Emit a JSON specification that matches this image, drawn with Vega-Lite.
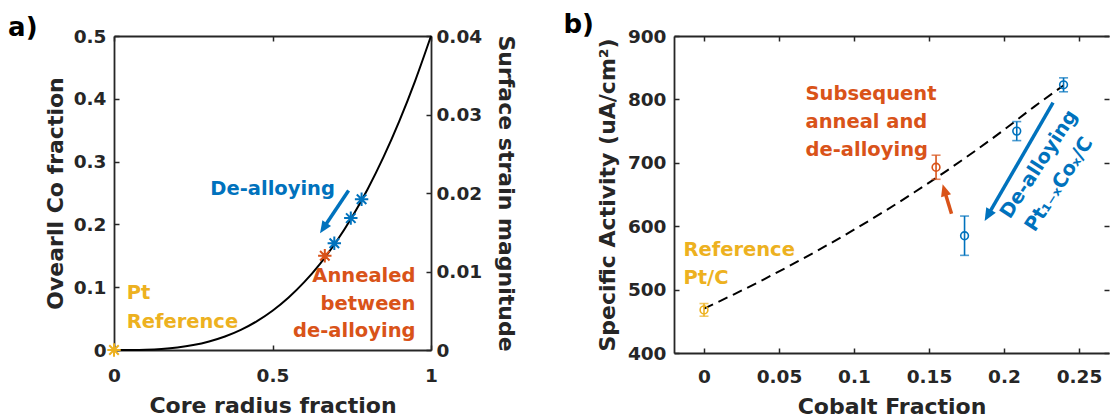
{
  "$schema": "https://vega.github.io/schema/vega-lite/v6.json",
  "background": "white",
  "padding": {"left": 8, "top": 12, "right": 0, "bottom": 0},
  "bounds": "flush",
  "spacing": 243,
  "config": {
    "view": {"stroke": null},
    "font": "DejaVu Sans",
    "axis": {
      "grid": false,
      "labelFont": "DejaVu Sans", "labelFontWeight": "bold", "labelFontSize": 18.5, "labelColor": "#262626",
      "titleFont": "DejaVu Sans", "titleFontWeight": "bold", "titleFontSize": 22, "titleColor": "#262626",
      "domainColor": "#262626", "domainWidth": 1.8, "tickColor": "#262626", "tickWidth": 1.5, "tickSize": -5,
      "labelFlush": false, "labelOverlap": false
    },
    "text": {"font": "DejaVu Sans", "fontWeight": "bold", "fontSize": 19.5}
  },
  "datasets": {
    "curveA": [
      {"r": 0, "co": 0}, {"r": 0.05, "co": 0.0001}, {"r": 0.1, "co": 0.0005}, {"r": 0.15, "co": 0.0017},
      {"r": 0.2, "co": 0.004}, {"r": 0.25, "co": 0.0078}, {"r": 0.3, "co": 0.0135}, {"r": 0.35, "co": 0.0214},
      {"r": 0.4, "co": 0.032}, {"r": 0.45, "co": 0.0456}, {"r": 0.5, "co": 0.0625}, {"r": 0.55, "co": 0.0832},
      {"r": 0.6, "co": 0.108}, {"r": 0.65, "co": 0.1373}, {"r": 0.7, "co": 0.1715}, {"r": 0.75, "co": 0.2109},
      {"r": 0.8, "co": 0.256}, {"r": 0.85, "co": 0.3071}, {"r": 0.9, "co": 0.3645}, {"r": 0.95, "co": 0.4287},
      {"r": 1, "co": 0.5}
    ],
    "ptsA": [
      {"r": 0, "co": 0, "series": "ref"},
      {"r": 0.665, "co": 0.15, "series": "anneal"},
      {"r": 0.695, "co": 0.17, "series": "dealloy"},
      {"r": 0.747, "co": 0.21, "series": "dealloy"},
      {"r": 0.781, "co": 0.24, "series": "dealloy"}
    ],
    "arrowA": [{"x0": 0.74, "y0": 0.254, "x1": 0.664, "y1": 0.1967, "xt": 0.65, "yt": 0.186, "series": "dealloy"}],
    "textA_right": [
      {"x": 0.697, "y": 0.2476, "label": "De-alloying", "series": "dealloy"},
      {"x": 0.951, "y": 0.108, "label": "Annealed", "series": "anneal"},
      {"x": 0.951, "y": 0.0635, "label": "between", "series": "anneal"},
      {"x": 0.951, "y": 0.02, "label": "de-alloying", "series": "anneal"}
    ],
    "textA_left": [
      {"x": 0.04, "y": 0.0812, "label": "Pt", "series": "ref"},
      {"x": 0.04, "y": 0.035, "label": "Reference", "series": "ref"}
    ],
    "lineB": [
      {"cf": 0, "sa": 470}, {"cf": 0.02, "sa": 492.6}, {"cf": 0.04, "sa": 516.3}, {"cf": 0.06, "sa": 541.2},
      {"cf": 0.08, "sa": 567.2}, {"cf": 0.1, "sa": 594.5}, {"cf": 0.12, "sa": 623.1}, {"cf": 0.14, "sa": 653.1},
      {"cf": 0.16, "sa": 684.6}, {"cf": 0.18, "sa": 717.5}, {"cf": 0.2, "sa": 752}, {"cf": 0.22, "sa": 788.2},
      {"cf": 0.2397, "sa": 822}
    ],
    "ptsB": [
      {"cf": 0, "sa": 468, "lo": 458, "hi": 478, "series": "ref"},
      {"cf": 0.1547, "sa": 693, "lo": 674, "hi": 712, "series": "anneal"},
      {"cf": 0.1737, "sa": 585, "lo": 554, "hi": 616, "series": "dealloy"},
      {"cf": 0.2085, "sa": 750, "lo": 735, "hi": 765, "series": "dealloy"},
      {"cf": 0.2397, "sa": 823, "lo": 812, "hi": 834, "series": "dealloy"}
    ],
    "arrowBblue": [{"x0": 0.2327, "y0": 794.8, "x1": 0.1897, "y1": 619.1, "xt": 0.1871, "yt": 608.2, "series": "dealloy"}],
    "arrowBorange": [{"x0": 0.165, "y0": 619.5, "x1": 0.1606, "y1": 654, "xt": 0.1591, "yt": 666.1, "series": "anneal"}],
    "textB_left": [
      {"x": 0.0677, "y": 799.8, "label": "Subsequent", "series": "anneal"},
      {"x": 0.0677, "y": 754.9, "label": "anneal and", "series": "anneal"},
      {"x": 0.0677, "y": 711.5, "label": "de-alloying", "series": "anneal"},
      {"x": -0.0137, "y": 553, "label": "Reference", "series": "ref"},
      {"x": -0.0137, "y": 509.6, "label": "Pt/C", "series": "ref"}
    ],
    "textB_rot": [
      {"x": 0.2233, "y": 697.6, "label": "De-alloying", "series": "dealloy"},
      {"x": 0.2367, "y": 666.1, "label": "Pt₁₋ₓCoₓ/C", "series": "dealloy"}
    ]
  },
  "hconcat": [
    {
      "width": 317,
      "height": 314,
      "resolve": {"scale": {"x": "independent", "y": "independent"}},
      "layer": [
        {
          "layer": [
            {
              "data": {"name": "curveA"},
              "mark": {"type": "line", "color": "#000000", "strokeWidth": 2, "interpolate": "monotone"},
              "encoding": {
                "x": {"field": "r", "type": "quantitative", "scale": {"domain": [0, 1], "nice": false, "zero": false},
                      "axis": {"orient": "bottom", "values": [0, 0.5, 1], "format": "~g", "title": "Core radius fraction", "labelPadding": 21, "titlePadding": 11}},
                "y": {"field": "co", "type": "quantitative", "scale": {"domain": [0, 0.5], "nice": false, "zero": false},
                      "axis": {"orient": "left", "values": [0, 0.1, 0.2, 0.3, 0.4, 0.5], "format": "~g", "title": "Ovearll Co fraction", "labelPadding": 13, "titlePadding": 6}}
              }
            },
            {
              "data": {"name": "ptsA"},
              "mark": {"type": "point", "shape": "M-1,0L1,0M0,-1L0,1M-0.71,-0.71L0.71,0.71M-0.71,0.71L0.71,-0.71", "filled": false, "size": 180, "strokeWidth": 2, "opacity": 1},
              "encoding": {
                "x": {"field": "r", "type": "quantitative", "scale": {"domain": [0, 1], "nice": false, "zero": false}},
                "y": {"field": "co", "type": "quantitative", "scale": {"domain": [0, 0.5], "nice": false, "zero": false}},
                "color": {"field": "series", "type": "nominal", "scale": {"domain": ["dealloy", "anneal", "ref"], "range": ["#0072BD", "#D95319", "#EDB120"]}, "legend": null}
              }
            },
            {
              "data": {"name": "arrowA"},
              "mark": {"type": "rule", "strokeWidth": 3.5, "strokeCap": "butt"},
              "encoding": {
                "x": {"field": "x0", "type": "quantitative", "scale": {"domain": [0, 1], "nice": false, "zero": false}},
                "y": {"field": "y0", "type": "quantitative", "scale": {"domain": [0, 0.5], "nice": false, "zero": false}},
                "x2": {"field": "x1"},
                "y2": {"field": "y1"},
                "color": {"field": "series", "type": "nominal", "scale": {"domain": ["dealloy", "anneal", "ref"], "range": ["#0072BD", "#D95319", "#EDB120"]}, "legend": null}
              }
            },
            {
              "data": {"name": "arrowA"},
              "mark": {"type": "point", "shape": "M0,0L0.65,1.5L-0.65,1.5Z", "filled": true, "size": 256, "opacity": 1, "angle": 213.8},
              "encoding": {
                "x": {"field": "xt", "type": "quantitative", "scale": {"domain": [0, 1], "nice": false, "zero": false}},
                "y": {"field": "yt", "type": "quantitative", "scale": {"domain": [0, 0.5], "nice": false, "zero": false}},
                "color": {"field": "series", "type": "nominal", "scale": {"domain": ["dealloy", "anneal", "ref"], "range": ["#0072BD", "#D95319", "#EDB120"]}, "legend": null}
              }
            },
            {
              "data": {"name": "textA_right"},
              "mark": {"type": "text", "align": "right", "baseline": "alphabetic"},
              "encoding": {
                "x": {"field": "x", "type": "quantitative", "scale": {"domain": [0, 1], "nice": false, "zero": false}},
                "y": {"field": "y", "type": "quantitative", "scale": {"domain": [0, 0.5], "nice": false, "zero": false}},
                "text": {"field": "label"},
                "color": {"field": "series", "type": "nominal", "scale": {"domain": ["dealloy", "anneal", "ref"], "range": ["#0072BD", "#D95319", "#EDB120"]}, "legend": null}
              }
            },
            {
              "data": {"name": "textA_left"},
              "mark": {"type": "text", "align": "left", "baseline": "alphabetic"},
              "encoding": {
                "x": {"field": "x", "type": "quantitative", "scale": {"domain": [0, 1], "nice": false, "zero": false}},
                "y": {"field": "y", "type": "quantitative", "scale": {"domain": [0, 0.5], "nice": false, "zero": false}},
                "text": {"field": "label"},
                "color": {"field": "series", "type": "nominal", "scale": {"domain": ["dealloy", "anneal", "ref"], "range": ["#0072BD", "#D95319", "#EDB120"]}, "legend": null}
              }
            },
            {
              "data": {"values": [{"x": -0.334, "y": 0.5, "label": "a)"}]},
              "mark": {"type": "text", "align": "left", "baseline": "alphabetic", "fontSize": 26, "color": "#000000"},
              "encoding": {
                "x": {"field": "x", "type": "quantitative", "scale": {"domain": [0, 1], "nice": false, "zero": false}},
                "y": {"field": "y", "type": "quantitative", "scale": {"domain": [0, 0.5], "nice": false, "zero": false}},
                "text": {"field": "label"}
              }
            }
          ]
        },
        {
          "data": {"values": [{"r": 0, "s": 0}]},
          "mark": {"type": "point", "opacity": 0},
          "encoding": {
            "x": {"field": "r", "type": "quantitative", "scale": {"domain": [0, 1], "nice": false, "zero": false},
                  "axis": {"orient": "top", "values": [0, 0.5, 1], "labels": false, "title": null}},
            "y": {"field": "s", "type": "quantitative", "scale": {"domain": [0, 0.04], "nice": false, "zero": false},
                  "axis": {"orient": "right", "values": [0, 0.01, 0.02, 0.03, 0.04], "format": "~g", "title": "Surface strain magnitude", "labelPadding": 10, "titlePadding": 12}}
          }
        }
      ]
    },
    {
      "width": 435,
      "height": 317,
      "resolve": {"scale": {"x": "independent", "y": "independent"}},
      "layer": [
        {
          "layer": [
            {
              "data": {"name": "lineB"},
              "mark": {"type": "line", "color": "#000000", "strokeWidth": 2, "strokeDash": [10, 6], "interpolate": "monotone"},
              "encoding": {
                "x": {"field": "cf", "type": "quantitative", "scale": {"domain": [-0.02, 0.27], "nice": false, "zero": false},
                      "axis": {"orient": "bottom", "values": [0, 0.05, 0.1, 0.15, 0.2, 0.25], "format": "~g", "title": "Cobalt Fraction", "labelPadding": 19, "titlePadding": 11}},
                "y": {"field": "sa", "type": "quantitative", "scale": {"domain": [400, 900], "nice": false, "zero": false},
                      "axis": {"orient": "left", "values": [400, 500, 600, 700, 800, 900], "format": "d", "title": "Specific Activity (uA/cm²)", "labelPadding": 13, "titlePadding": 8}}
              }
            },
            {
              "data": {"name": "ptsB"},
              "mark": {"type": "rule", "strokeWidth": 1.6},
              "encoding": {
                "x": {"field": "cf", "type": "quantitative", "scale": {"domain": [-0.02, 0.27], "nice": false, "zero": false}},
                "y": {"field": "lo", "type": "quantitative", "scale": {"domain": [400, 900], "nice": false, "zero": false}},
                "y2": {"field": "hi"},
                "color": {"field": "series", "type": "nominal", "scale": {"domain": ["dealloy", "anneal", "ref"], "range": ["#0072BD", "#D95319", "#EDB120"]}, "legend": null}
              }
            },
            {
              "data": {"name": "ptsB"},
              "mark": {"type": "tick", "orient": "horizontal", "size": 9, "thickness": 1.6},
              "encoding": {
                "x": {"field": "cf", "type": "quantitative", "scale": {"domain": [-0.02, 0.27], "nice": false, "zero": false}},
                "y": {"field": "lo", "type": "quantitative", "scale": {"domain": [400, 900], "nice": false, "zero": false}},
                "color": {"field": "series", "type": "nominal", "scale": {"domain": ["dealloy", "anneal", "ref"], "range": ["#0072BD", "#D95319", "#EDB120"]}, "legend": null}
              }
            },
            {
              "data": {"name": "ptsB"},
              "mark": {"type": "tick", "orient": "horizontal", "size": 9, "thickness": 1.6},
              "encoding": {
                "x": {"field": "cf", "type": "quantitative", "scale": {"domain": [-0.02, 0.27], "nice": false, "zero": false}},
                "y": {"field": "hi", "type": "quantitative", "scale": {"domain": [400, 900], "nice": false, "zero": false}},
                "color": {"field": "series", "type": "nominal", "scale": {"domain": ["dealloy", "anneal", "ref"], "range": ["#0072BD", "#D95319", "#EDB120"]}, "legend": null}
              }
            },
            {
              "data": {"name": "ptsB"},
              "mark": {"type": "point", "shape": "circle", "filled": false, "size": 60, "strokeWidth": 1.6, "opacity": 1},
              "encoding": {
                "x": {"field": "cf", "type": "quantitative", "scale": {"domain": [-0.02, 0.27], "nice": false, "zero": false}},
                "y": {"field": "sa", "type": "quantitative", "scale": {"domain": [400, 900], "nice": false, "zero": false}},
                "color": {"field": "series", "type": "nominal", "scale": {"domain": ["dealloy", "anneal", "ref"], "range": ["#0072BD", "#D95319", "#EDB120"]}, "legend": null}
              }
            },
            {
              "data": {"name": "arrowBblue"},
              "mark": {"type": "rule", "strokeWidth": 3.5, "strokeCap": "butt"},
              "encoding": {
                "x": {"field": "x0", "type": "quantitative", "scale": {"domain": [-0.02, 0.27], "nice": false, "zero": false}},
                "y": {"field": "y0", "type": "quantitative", "scale": {"domain": [400, 900], "nice": false, "zero": false}},
                "x2": {"field": "x1"},
                "y2": {"field": "y1"},
                "color": {"field": "series", "type": "nominal", "scale": {"domain": ["dealloy", "anneal", "ref"], "range": ["#0072BD", "#D95319", "#EDB120"]}, "legend": null}
              }
            },
            {
              "data": {"name": "arrowBblue"},
              "mark": {"type": "point", "shape": "M0,0L0.65,1.5L-0.65,1.5Z", "filled": true, "size": 289, "opacity": 1, "angle": 210},
              "encoding": {
                "x": {"field": "xt", "type": "quantitative", "scale": {"domain": [-0.02, 0.27], "nice": false, "zero": false}},
                "y": {"field": "yt", "type": "quantitative", "scale": {"domain": [400, 900], "nice": false, "zero": false}},
                "color": {"field": "series", "type": "nominal", "scale": {"domain": ["dealloy", "anneal", "ref"], "range": ["#0072BD", "#D95319", "#EDB120"]}, "legend": null}
              }
            },
            {
              "data": {"name": "arrowBorange"},
              "mark": {"type": "rule", "strokeWidth": 3.5, "strokeCap": "butt"},
              "encoding": {
                "x": {"field": "x0", "type": "quantitative", "scale": {"domain": [-0.02, 0.27], "nice": false, "zero": false}},
                "y": {"field": "y0", "type": "quantitative", "scale": {"domain": [400, 900], "nice": false, "zero": false}},
                "x2": {"field": "x1"},
                "y2": {"field": "y1"},
                "color": {"field": "series", "type": "nominal", "scale": {"domain": ["dealloy", "anneal", "ref"], "range": ["#0072BD", "#D95319", "#EDB120"]}, "legend": null}
              }
            },
            {
              "data": {"name": "arrowBorange"},
              "mark": {"type": "point", "shape": "M0,0L0.65,1.5L-0.65,1.5Z", "filled": true, "size": 256, "opacity": 1, "angle": 343.5},
              "encoding": {
                "x": {"field": "xt", "type": "quantitative", "scale": {"domain": [-0.02, 0.27], "nice": false, "zero": false}},
                "y": {"field": "yt", "type": "quantitative", "scale": {"domain": [400, 900], "nice": false, "zero": false}},
                "color": {"field": "series", "type": "nominal", "scale": {"domain": ["dealloy", "anneal", "ref"], "range": ["#0072BD", "#D95319", "#EDB120"]}, "legend": null}
              }
            },
            {
              "data": {"name": "textB_left"},
              "mark": {"type": "text", "align": "left", "baseline": "alphabetic"},
              "encoding": {
                "x": {"field": "x", "type": "quantitative", "scale": {"domain": [-0.02, 0.27], "nice": false, "zero": false}},
                "y": {"field": "y", "type": "quantitative", "scale": {"domain": [400, 900], "nice": false, "zero": false}},
                "text": {"field": "label"},
                "color": {"field": "series", "type": "nominal", "scale": {"domain": ["dealloy", "anneal", "ref"], "range": ["#0072BD", "#D95319", "#EDB120"]}, "legend": null}
              }
            },
            {
              "data": {"name": "textB_rot"},
              "mark": {"type": "text", "align": "center", "baseline": "middle", "angle": -57},
              "encoding": {
                "x": {"field": "x", "type": "quantitative", "scale": {"domain": [-0.02, 0.27], "nice": false, "zero": false}},
                "y": {"field": "y", "type": "quantitative", "scale": {"domain": [400, 900], "nice": false, "zero": false}},
                "text": {"field": "label"},
                "color": {"field": "series", "type": "nominal", "scale": {"domain": ["dealloy", "anneal", "ref"], "range": ["#0072BD", "#D95319", "#EDB120"]}, "legend": null}
              }
            },
            {
              "data": {"values": [{"x": -0.0937, "y": 904.3, "label": "b)"}]},
              "mark": {"type": "text", "align": "left", "baseline": "alphabetic", "fontSize": 26, "color": "#000000"},
              "encoding": {
                "x": {"field": "x", "type": "quantitative", "scale": {"domain": [-0.02, 0.27], "nice": false, "zero": false}},
                "y": {"field": "y", "type": "quantitative", "scale": {"domain": [400, 900], "nice": false, "zero": false}},
                "text": {"field": "label"}
              }
            }
          ]
        },
        {
          "data": {"values": [{"r": 0, "s": 400}]},
          "mark": {"type": "point", "opacity": 0},
          "encoding": {
            "x": {"field": "r", "type": "quantitative", "scale": {"domain": [-0.02, 0.27], "nice": false, "zero": false},
                  "axis": {"orient": "top", "values": [0, 0.05, 0.1, 0.15, 0.2, 0.25], "labels": false, "title": null}},
            "y": {"field": "s", "type": "quantitative", "scale": {"domain": [400, 900], "nice": false, "zero": false},
                  "axis": {"orient": "right", "values": [400, 500, 600, 700, 800, 900], "labels": false, "title": null, "domain": false}}
          }
        }
      ]
    }
  ]
}
